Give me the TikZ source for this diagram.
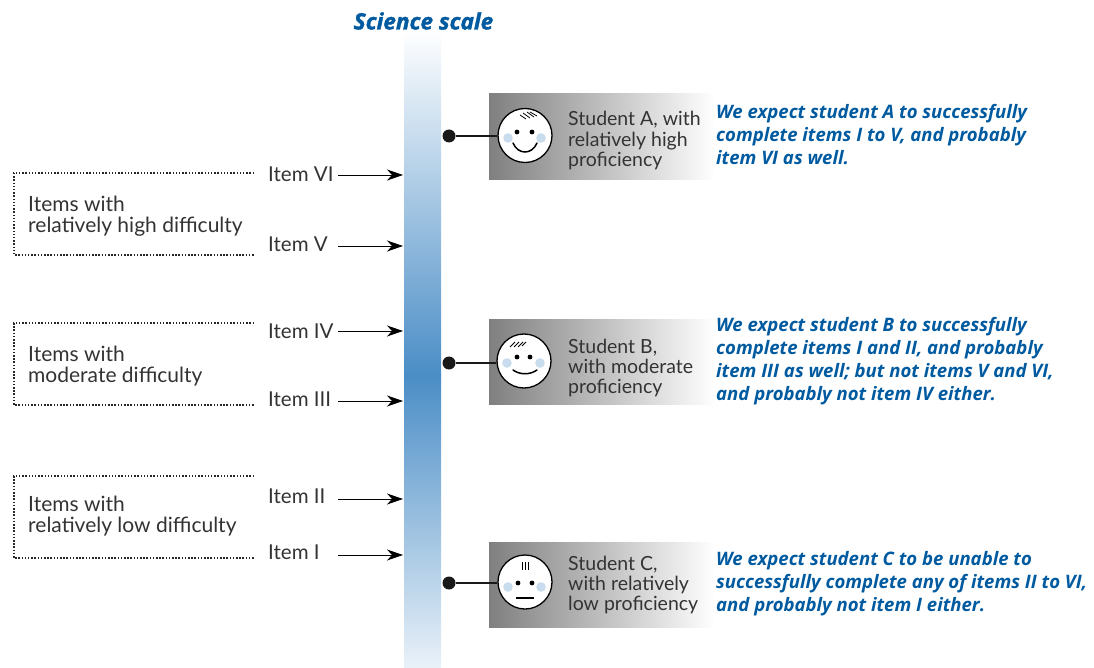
\documentclass[tikz,border=0pt]{standalone}
\usepackage{fontspec}
\setmainfont{Lato}
\newfontfamily\calloutfont{Open Sans}
\newfontfamily\titlefont[BoldItalicFeatures={FakeBold=1.6}]{Open Sans}
\usetikzlibrary{arrows.meta}
\definecolor{scaleblue}{HTML}{4A8DC6}
\definecolor{inkblue}{HTML}{005AA0}
\definecolor{txt}{HTML}{333333}
\definecolor{cheek}{HTML}{C8DCEE}
\tikzset{
 lbl/.style={inner sep=0pt,anchor=west,align=left,text=txt,font=\fontsize{21}{21.5}\selectfont},
 stulbl/.style={inner sep=0pt,anchor=west,align=left,text=txt,font=\fontsize{19.5}{20.2}\selectfont},
 itemlbl/.style={inner sep=0pt,anchor=west,text=txt,font=\fontsize{20.5}{21}\selectfont},
 callout/.style={inner sep=0pt,anchor=west,align=left,text=inkblue,font=\calloutfont\bfseries\itshape\fontsize{18.55}{23}\selectfont},
 panel/.style={inner sep=0pt,minimum width=226,minimum height=85,anchor=north west,shade,shading=axis,left color=black!50,right color=white,shading angle=90},
 face/.style={circle,draw=black,fill=white,line width=1.3pt,minimum size=54,inner sep=0pt},
 stick/.style={line width=2pt,draw=black!90},
 knob/.style={circle,fill=black!90,minimum size=13,inner sep=0pt},
 arrow/.style={line width=.9pt,-{Stealth[length=16pt,width=11pt,inset=5pt]}},
 brk/.style={line width=1.1pt,dash pattern=on 1.5pt off 1.7pt,draw=black!85},
 feat/.style={line width=1.5pt,line cap=round,draw=black},
 hair/.style={line width=.8pt,draw=black},
}
\begin{document}
\begin{tikzpicture}[x=1pt,y=-1pt]
\useasboundingbox (0,0) rectangle (1094,668);
% scale bar
\shade[top color=white,bottom color=scaleblue] (404,30) rectangle (441,375);
\shade[top color=scaleblue,bottom color=scaleblue!12] (404,375) rectangle (441,668);
\node[inner sep=0pt,text=inkblue,font=\titlefont\bfseries\itshape\fontsize{22.6}{24}\selectfont] (title) at (423.5,21) {Science scale};
\coordinate (s6) at (403,175);
\coordinate (s5) at (403,246);
\coordinate (s4) at (403,331);
\coordinate (s3) at (403,401);
\coordinate (s2) at (403,499);
\coordinate (s1) at (403,555);
% item labels
\node[itemlbl] (i6) at (268,174.5) {Item VI};
\node[itemlbl] (i5) at (268,244.5) {Item V};
\node[itemlbl] (i4) at (268,331.5) {Item IV};
\node[itemlbl] (i3) at (268,399.5) {Item III};
\node[itemlbl] (i2) at (268,496.5) {Item II};
\node[itemlbl] (i1) at (268,552.5) {Item I};
\coordinate (a6) at (338,175);
\coordinate (a5) at (338,246);
\coordinate (a4) at (338,331);
\coordinate (a3) at (338,401);
\coordinate (a2) at (338,499);
\coordinate (a1) at (338,555);
\foreach \n in {1,...,6}{\draw[arrow] (a\n) -- (s\n);}
% brackets
\draw[brk] (254,173) -- (14,173) -- (14,255) -- (254,255);
\draw[brk] (254,323) -- (14,323) -- (14,405) -- (254,405);
\draw[brk] (254,476) -- (14,476) -- (14,558) -- (254,558);
\node[lbl] (g3) at (28,216) {Items with\\relatively high difficulty};
\node[lbl] (g2) at (28,366) {Items with\\moderate difficulty};
\node[lbl] (g1) at (28,516) {Items with\\relatively low difficulty};
% panels
\node[panel,minimum height=86] (pa) at (489,93) {};
\node[panel] (pb) at (489,319) {};
\node[panel] (pc) at (489,542) {};
% student A
\node[knob] (ka) at (449,136) {};
\node[face] (fa) at (525,135.5) {};
\draw[stick] (ka) -- (ka -| fa.west);
\fill (517,132) circle (2.4) (532,132) circle (2.4);
\fill[cheek] (508,138) circle (4.8) (541,138) circle (4.8);
\draw[feat] (513,143) .. controls (518,155) and (532,155) .. (537,143);
\draw[hair] (520,115) -- (526,119) (523,113) -- (530,118) (527,112) -- (534,117) (530,112) -- (537,116);
\node[stulbl] (ta) at (568,140.5) {Student A, with\\relatively high\\proficiency};
% student B
\node[knob] (kb) at (449,363) {};
\node[face] (fb) at (524,361) {};
\draw[stick] (kb) -- (kb -| fb.west);
\fill (517,357) circle (2.4) (530,357) circle (2.4);
\fill[cheek] (507,363) circle (4.8) (540,363) circle (4.8);
\draw[feat] (513,370) .. controls (520,375) and (530,375) .. (537,370);
\draw[hair] (510,347) -- (515,342) (514,347) -- (519,342) (518,347) -- (523,342) (522,346) -- (526,342);
\node[stulbl] (tb) at (568,368) {Student B,\\with moderate\\proficiency};
% student C
\node[knob] (kc) at (449,583) {};
\node[face] (fc) at (525,582) {};
\draw[stick] (kc) -- (kc -| fc.west);
\fill (518,583) circle (2.4) (532,583) circle (2.4);
\fill[cheek] (508,587) circle (4.8) (541,587) circle (4.8);
\draw[line width=1.2pt,draw=black] (516,598) -- (534,598);
\draw[hair] (522,562) -- (522,570) (525,562) -- (525,570) (528,562) -- (528,570);
\node[stulbl] (tc) at (568,585) {Student C,\\with relatively\\low proficiency};
% callouts
\node[callout] (ca) at (716,135) {We expect student A to successfully\\complete items I to V, and probably\\item VI as well.};
\node[callout] (cb) at (716,361) {We expect student B to successfully\\complete items I and II, and probably\\item III as well; but not items V and VI,\\and probably not item IV either.};
\node[callout] (cc) at (716,584) {We expect student C to be unable to\\successfully complete any of items II to VI,\\and probably not item I either.};
\end{tikzpicture}
\end{document}
